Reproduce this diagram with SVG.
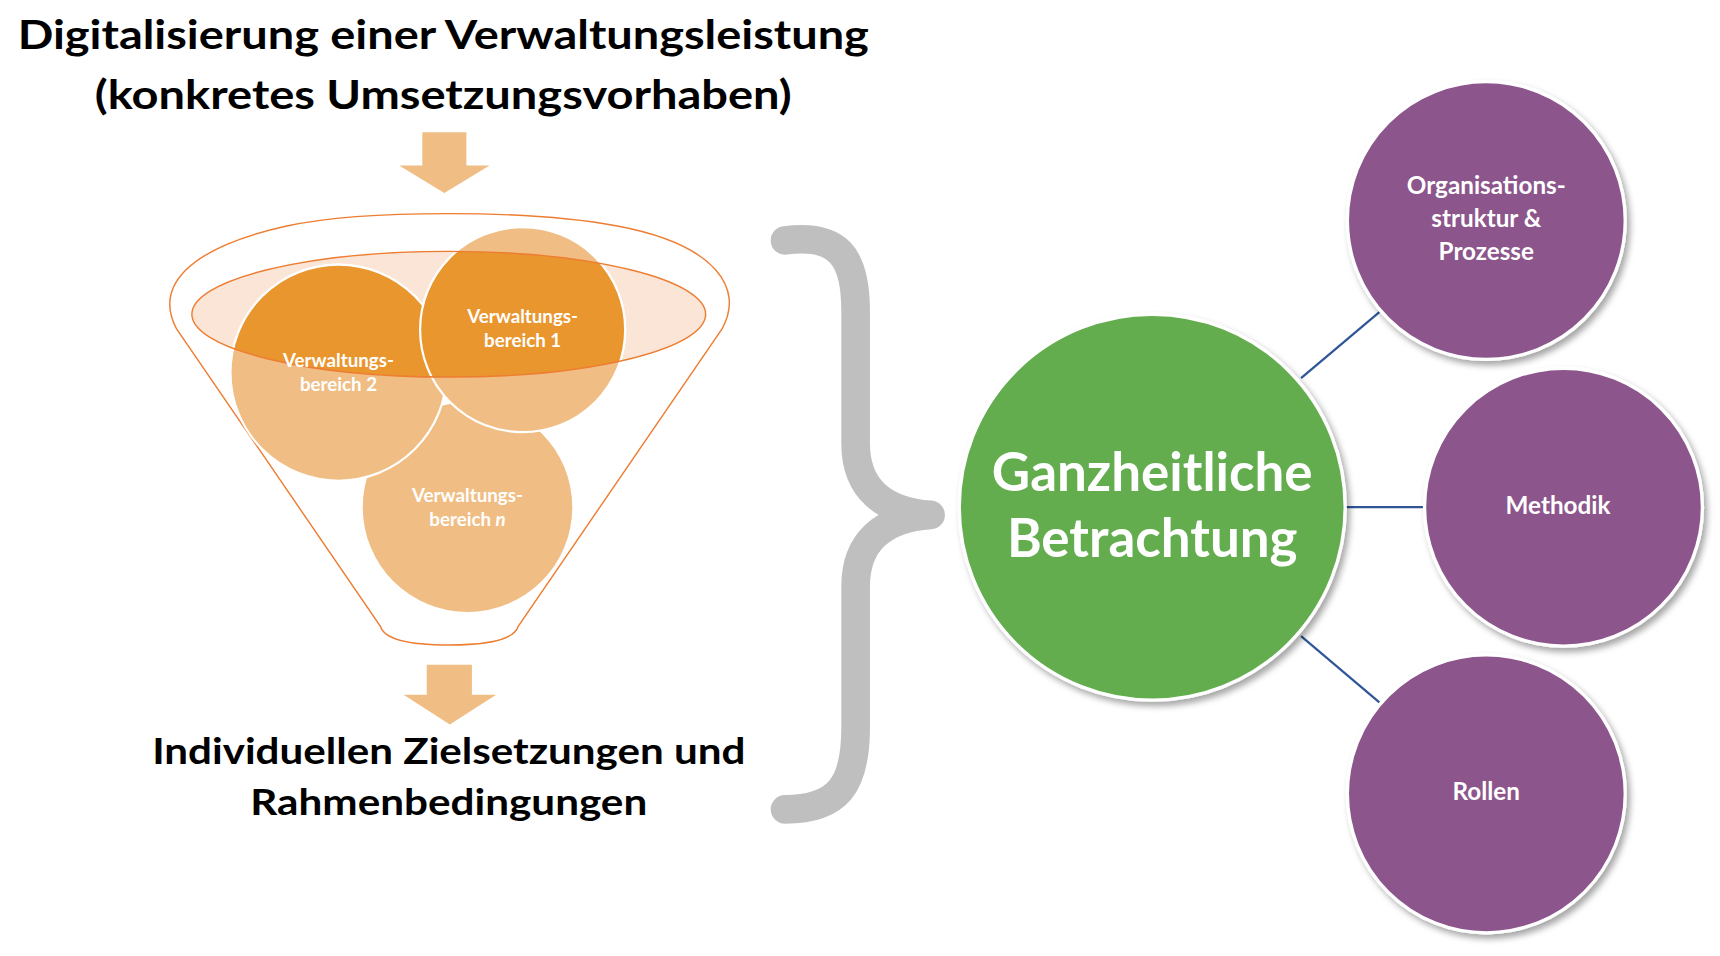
<svg xmlns="http://www.w3.org/2000/svg" width="1720" height="956" viewBox="0 0 1720 956">
<style>
.t{font-family:Lato,"Liberation Sans",sans-serif;font-weight:bold;text-anchor:middle}
.h{font-size:37px;fill:#000}
.w{fill:#fff}
.pc{fill:#8C568C;stroke:#fff;stroke-width:3;filter:url(#sh)}
.cn{stroke:#2F5597;stroke-width:2}
</style>
<defs>
<filter id="sh" x="-20%" y="-20%" width="150%" height="150%"><feDropShadow dx="3" dy="4" stdDeviation="3" flood-color="#000" flood-opacity="0.35"/></filter>
<clipPath id="ell"><ellipse cx="407" cy="285" rx="233" ry="57"/></clipPath>
</defs>
<rect width="1720" height="956" fill="#fff"/>
<g transform="scale(1.1026)">
<g id="title">
<text class="t h" x="402" y="44" textLength="772" lengthAdjust="spacingAndGlyphs">Digitalisierung einer Verwaltungsleistung</text>
<text class="t h" x="402" y="99" textLength="632" lengthAdjust="spacingAndGlyphs">(konkretes Umsetzungsvorhaben)</text>
</g>
<g id="arrow-top"><path d="M383,120 H423 V150 H444 L403,175 L362,150 H383 Z" fill="#F0BE84"/></g>
<g id="funnel">
<path d="M160,298 C140,260 170,225 260,205 C330,190 480,190 560,205 C650,222 675,262 655,298 L470,568 Q465,585 407,585 Q350,585 345,568 Z" fill="none" stroke="#ED7D31" stroke-width="1.3"/>
<ellipse cx="407" cy="285" rx="233" ry="57" fill="#FBE5D6"/>
<circle cx="424" cy="460" r="95" fill="#F0BE84"/>
<circle cx="307" cy="338" r="98" fill="#F0BE84" stroke="#fff" stroke-width="2"/>
<circle cx="474" cy="299" r="93" fill="#F0BE84" stroke="#fff" stroke-width="2"/>
<g clip-path="url(#ell)">
<circle cx="307" cy="338" r="98" fill="#E9962F" stroke="#fff" stroke-width="2"/>
<circle cx="474" cy="299" r="93" fill="#E9962F" stroke="#fff" stroke-width="2"/>
</g>
<ellipse cx="407" cy="285" rx="233" ry="57" fill="none" stroke="#ED7D31" stroke-width="1.3"/>
<text class="t w" font-size="17" x="307" y="333">Verwaltungs-</text>
<text class="t w" font-size="17" x="307" y="355">bereich 2</text>
<text class="t w" font-size="17" x="474" y="293">Verwaltungs-</text>
<text class="t w" font-size="17" x="474" y="315">bereich 1</text>
<text class="t w" font-size="17" x="424" y="455">Verwaltungs-</text>
<text class="t w" font-size="17" x="424" y="477">bereich <tspan font-style="italic">n</tspan></text>
</g>
<g id="arrow-bottom"><path d="M387,603 H428 V630 H450 L408,657 L366,630 H387 Z" fill="#F0BE84"/></g>
<g id="goal">
<text class="t" font-size="33" x="407" y="693" textLength="538" lengthAdjust="spacingAndGlyphs">Individuellen Zielsetzungen und</text>
<text class="t" font-size="33" x="407" y="739" textLength="360" lengthAdjust="spacingAndGlyphs">Rahmenbedingungen</text>
</g>
<g id="brace"><path d="M712,218 C760,212 776,232 776,282 L776,402 C776,442 800,464 844,467 C800,470 776,492 776,532 L776,660 C776,712 760,734 712,734" fill="none" stroke="#BFBFBF" stroke-width="26" stroke-linecap="round" stroke-linejoin="round"/></g>
<g id="connectors">
<line class="cn" x1="1180" y1="343" x2="1251" y2="283"/>
<line class="cn" x1="1220" y1="460" x2="1292" y2="460"/>
<line class="cn" x1="1180" y1="577" x2="1251" y2="637"/>
</g>
<g id="center">
<circle cx="1045" cy="460" r="175" fill="#63AD50" stroke="#fff" stroke-width="3" filter="url(#sh)"/>
<text class="t w" font-size="48" x="1045" y="445">Ganzheitliche</text>
<text class="t w" font-size="48" x="1045" y="505">Betrachtung</text>
</g>
<g id="org">
<circle class="pc" cx="1348" cy="200" r="126"/>
<text class="t w" font-size="22" x="1348" y="176">Organisations-</text>
<text class="t w" font-size="22" x="1348" y="206">struktur &amp;</text>
<text class="t w" font-size="22" x="1348" y="236">Prozesse</text>
</g>
<g id="methodik">
<circle class="pc" cx="1418" cy="460" r="126"/>
<text class="t w" font-size="22" x="1413" y="466">Methodik</text>
</g>
<g id="rollen">
<circle class="pc" cx="1348" cy="720" r="126"/>
<text class="t w" font-size="22" x="1348" y="726">Rollen</text>
</g>
</g>
</svg>
